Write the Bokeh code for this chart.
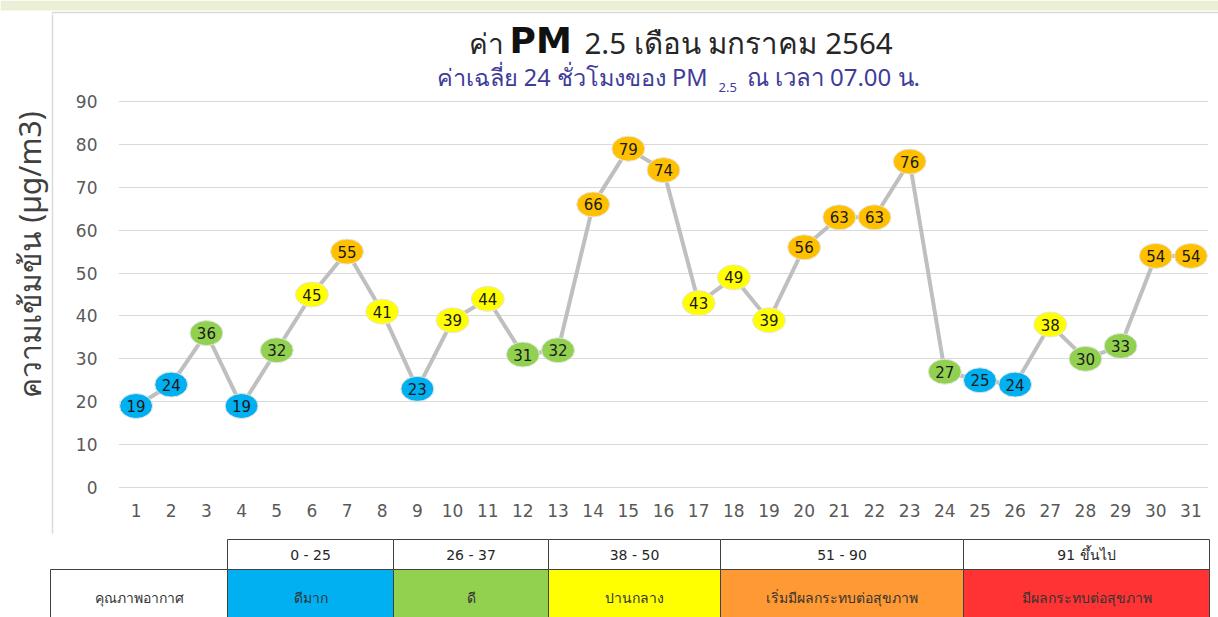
import math
from bokeh.plotting import figure
from bokeh.models import Range1d, ColumnDataSource, FixedTicker
from bokeh.layouts import row, column
from bokeh.embed import file_html
from bokeh.resources import INLINE
from bokeh.core.properties import value

# ---------------- data ----------------
days = list(range(1, 32))
pm25 = [19, 24, 36, 19, 32, 45, 55, 41, 23, 39, 44, 31, 32, 66, 79, 74,
        43, 49, 39, 56, 63, 63, 76, 27, 25, 24, 38, 30, 33, 54, 54]
y_ticks = [0, 10, 20, 30, 40, 50, 60, 70, 80, 90]

level_ranges = ["0 - 25", "26 - 37", "38 - 50", "51 - 90", "91 ขึ้นไป"]
level_upper = [25, 37, 50, 90]
level_names = ["ดีมาก", "ดี", "ปานกลาง", "เริ่มมีผลกระทบต่อสุขภาพ", "มีผลกระทบต่อสุขภาพ"]
level_table_colors = ["#00B0F0", "#92D050", "#FFFF00", "#FF9933", "#FF3333"]
level_marker_colors = ["#00B0F0", "#92D050", "#FFFF00", "#FFC000", "#FF0000"]
row_header = "คุณภาพอากาศ"

title_parts = ["ค่า", "PM", "2.5 เดือน มกราคม 2564"]
subtitle_parts = ["ค่าเฉลี่ย 24 ชั่วโมงของ PM", "2.5", "ณ เวลา 07.00 น."]
y_label = "ความเข้มข้น (µg/m3)"


def level_of(v):
    for i, u in enumerate(level_upper):
        if v <= u:
            return i
    return len(level_upper)


marker_colors = [level_marker_colors[level_of(v)] for v in pm25]

# ---------------- layout constants (page pixels) ----------------
W = 1218
HEAD_H = 14            # top band strip: page y 0..14
TAB_TOP = 538          # table strip: page y 538..617
PAGE_H = 617
LEFT_W = 54            # strip holding the y title and the box border
FRAME_L, FRAME_R = 118, 1208
FRAME_B = 500
PY0, PY90 = 487, 101   # page y of value 0 and value 90
PX = (PY0 - PY90) / 90.0
Y1 = 90 + (PY90 - HEAD_H) / PX
Y0 = -(FRAME_B - PY0) / PX
BOX_L, BOX_T, BOX_B = 52, 12, 533
GRID_C = "#D9D9D9"

FONT = "DejaVu Sans"
THAI = "Noto Sans"


def fx(px):
    """page x -> day units of the main chart"""
    return 0.5 + (px - FRAME_L) * 31.0 / (FRAME_R - FRAME_L)


def fy(py):
    """page y -> value units of the main chart"""
    return (PY0 - py) / PX


def strip(width, height, top):
    f = figure(width=width, height=height, x_range=Range1d(0, width),
               y_range=Range1d(top + height, top),
               output_backend="svg", toolbar_location=None,
               x_axis_type=None, y_axis_type=None,
               min_border_left=0, min_border_right=0, min_border_top=0, min_border_bottom=0)
    f.outline_line_color = None
    f.grid.visible = False
    f.background_fill_color = "white"
    f.border_fill_color = "white"
    return f


# ---------------- top band ----------------
h = strip(W, HEAD_H, 0)
h.quad(left=0, right=W, top=0, bottom=10, fill_color="#EBEFD5", line_color=None)
h.segment(x0=BOX_L, y0=BOX_T, x1=W, y1=BOX_T, line_color=GRID_C, line_width=1.5)
h.segment(x0=BOX_L, y0=BOX_T, x1=BOX_L, y1=HEAD_H, line_color=GRID_C, line_width=1.5)

# ---------------- left strip: y title and box border ----------------
lf = strip(LEFT_W, TAB_TOP - HEAD_H, HEAD_H)
lf.segment(x0=BOX_L, y0=HEAD_H, x1=BOX_L, y1=BOX_B, line_color=GRID_C, line_width=1.5)
lf.text(x=[29], y=[254], text=[y_label], angle=math.pi / 2, text_align="center",
        text_baseline="middle", text_font=value(THAI), text_font_size="30px",
        text_color="#404040")

# ---------------- main chart ----------------
p = figure(width=W - LEFT_W, height=TAB_TOP - HEAD_H,
           x_range=Range1d(0.5, 31.5), y_range=Range1d(Y0, Y1),
           output_backend="svg", toolbar_location=None,
           min_border_left=FRAME_L - LEFT_W, min_border_right=W - FRAME_R,
           min_border_top=0, min_border_bottom=TAB_TOP - FRAME_B)
p.outline_line_color = None
p.background_fill_color = "white"
p.border_fill_color = "white"

p.xaxis.ticker = FixedTicker(ticks=days)
p.yaxis.ticker = FixedTicker(ticks=y_ticks)
for ax in (p.xaxis[0], p.yaxis[0]):
    ax.axis_line_color = None
    ax.major_tick_line_color = None
    ax.minor_tick_line_color = None
    ax.major_tick_out = 0
    ax.major_tick_in = 0
    ax.major_label_text_font = FONT
    ax.major_label_text_font_size = "17px"
    ax.major_label_text_color = "#595959"
p.xaxis.major_label_standoff = 3
p.yaxis.major_label_standoff = 21

p.xgrid.visible = False
p.ygrid.ticker = FixedTicker(ticks=y_ticks)
p.ygrid.grid_line_color = GRID_C
p.ygrid.grid_line_width = 1

# titles (drawn inside the chart frame, above the 90 grid line)
TITLE_C = "#262626"
SUB_C = "#3F3C99"
p.text(x=[fx(503)], y=[fy(42)], text=[title_parts[0]], text_align="right",
       text_baseline="middle", text_font=value(THAI), text_font_size="28px",
       text_color=TITLE_C)
p.text(x=[fx(509)], y=[fy(40)], text=[title_parts[1]], text_align="left",
       text_baseline="middle", text_font=value(FONT), text_font_size="36px",
       text_font_style="bold", text_color="#111111")
p.text(x=[fx(584)], y=[fy(42)], text=[title_parts[2]], text_align="left",
       text_baseline="middle", text_font=value(THAI), text_font_size="29.5px",
       text_color=TITLE_C)
p.text(x=[fx(707)], y=[fy(76)], text=[subtitle_parts[0]], text_align="right",
       text_baseline="middle", text_font=value(THAI), text_font_size="23.5px",
       text_color=SUB_C)
p.text(x=[fx(718)], y=[fy(87)], text=[subtitle_parts[1]], text_align="left",
       text_baseline="middle", text_font=value(THAI), text_font_size="13px",
       text_color=SUB_C)
p.text(x=[fx(746)], y=[fy(76)], text=[subtitle_parts[2]], text_align="left",
       text_baseline="middle", text_font=value(THAI), text_font_size="24px",
       text_color=SUB_C)

src = ColumnDataSource(dict(day=days, pm=pm25, color=marker_colors,
                            label=[str(v) for v in pm25]))
p.line("day", "pm", source=src, line_color="#BFBFBF", line_width=4)
p.ellipse("day", "pm", width=33, height=25, width_units="screen", height_units="screen",
          source=src, fill_color="color", line_color="#E6E6E6", line_width=1)
p.text("day", "pm", text="label", source=src, text_align="center", text_baseline="middle",
       text_font=value(FONT), text_font_size="15px", text_color="#1A1A1A")

# ---------------- table ----------------
edges = [50, 227, 393, 548, 720, 963, 1209]
HDR_T, HDR_B, ROW_B = 539, 569, 640

t = strip(W, PAGE_H - TAB_TOP, TAB_TOP)
t.segment(x0=BOX_L, y0=TAB_TOP, x1=BOX_L, y1=BOX_B, line_color=GRID_C, line_width=1.5)

hdr = ColumnDataSource(dict(left=edges[1:-1], right=edges[2:], text=level_ranges,
                            xc=[(a + b) / 2 for a, b in zip(edges[1:-1], edges[2:])]))
t.quad(left="left", right="right", top=HDR_T, bottom=HDR_B, source=hdr,
       fill_color="white", line_color="#404040", line_width=1)
t.text(x="xc", y=(HDR_T + HDR_B) / 2, text="text", source=hdr, text_align="center",
       text_baseline="middle", text_font=value(FONT), text_font_size="14px",
       text_color="#262626")

body = ColumnDataSource(dict(left=edges[:-1], right=edges[1:],
                             color=["white"] + level_table_colors,
                             text=[row_header] + level_names,
                             xc=[(a + b) / 2 for a, b in zip(edges[:-1], edges[1:])]))
t.quad(left="left", right="right", top=HDR_B, bottom=ROW_B, source=body,
       fill_color="color", line_color="#404040", line_width=1)
t.text(x="xc", y=597, text="text", source=body, text_align="center",
       text_baseline="middle", text_font=value(THAI), text_font_size="14px",
       text_color="#333333")

open("out.html", "w").write(file_html([h, row(column(lf), p), t], INLINE))
